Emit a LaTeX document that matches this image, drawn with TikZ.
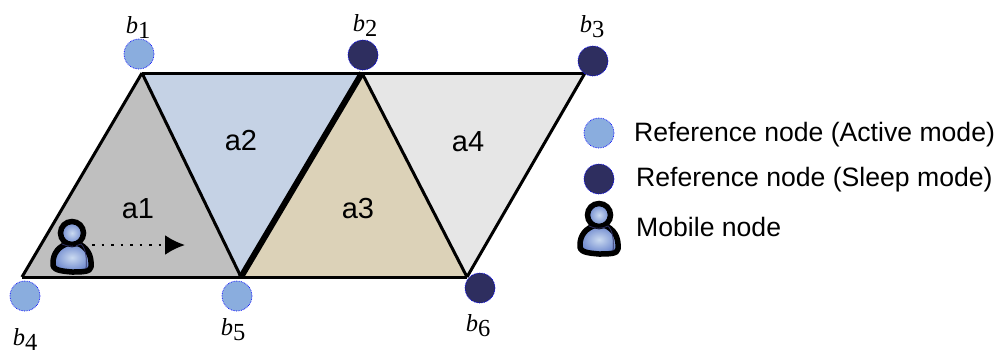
\documentclass[tikz,border=0pt]{standalone}
\usepackage{fontspec}
\setmainfont{Liberation Sans}
\newfontfamily\serifb{Liberation Serif}
\usetikzlibrary{arrows.meta, positioning, shapes.geometric}
\definecolor{cellone}{HTML}{BFBFBF}
\definecolor{celltwo}{HTML}{C5D2E5}
\definecolor{cellthree}{HTML}{DCD2B8}
\definecolor{cellfour}{HTML}{E6E6E6}
\definecolor{activeblue}{HTML}{8AADDE}
\definecolor{sleepblue}{HTML}{2E2E5F}
\newcommand{\bsub}[1]{{\serifb\itshape b}{\serifb\raisebox{-5pt}{#1}}}

\begin{document}
\begin{tikzpicture}[
        x=1pt, y=-1pt,
        active/.style={circle, draw=blue, densely dotted, line width=0.7pt, fill=activeblue, minimum size=30pt, inner sep=0pt},
        sleep/.style={active, fill=sleepblue},
        edge/.style={line width=3pt, line join=round},
        cell/.style={font=\fontsize{29}{30}\selectfont},
        bname/.style={font=\fontsize{24.5}{25}\selectfont, inner sep=0pt},
        legend/.style={anchor=west, inner sep=0pt, font=\fontsize{26.6}{28}\selectfont},
        mobile/.pic={
            \path[draw=black, line width=5.5pt, line join=round, inner color=activeblue!45, outer color=activeblue!85!blue!90!black]
                (-3,10) .. controls (-13,13) and (-19,20) .. (-19,30) .. controls (-20,37) and (-12,38) .. (0,39)
                .. controls (9,39) and (19,39) .. (19,34) .. controls (20,22) and (15,14) .. (5,10) -- cycle;
            \path[draw=black, line width=5.5pt, inner color=activeblue!45, outer color=activeblue!85!blue!90!black]
                (0,0) circle (11.5);
            \draw[sleepblue, line width=0.8pt] (-10,11) .. controls (-4,14) and (3,14) .. (9,11)
                .. controls (14,16) and (15,25) .. (14,36);
        }
    ]
        \useasboundingbox (0,0) rectangle (999,354);

        % Corners
        \coordinate (t1) at (142,73);
        \coordinate (t2) at (362,73);
        \coordinate (t3) at (585,73);
        \coordinate (p4) at (22,277);
        \coordinate (p5) at (241,277);
        \coordinate (p6) at (467,277);

        % Cells
        \fill[cellone] (t1) -- (p5) -- (p4) -- cycle;
        \fill[celltwo] (t1) -- (t2) -- (p5) -- cycle;
        \fill[cellthree] (t2) -- (p6) -- (p5) -- cycle;
        \fill[cellfour] (t2) -- (t3) -- (p6) -- cycle;

        % Edges
        \draw[edge] (t1) -- (t2);
        \draw[edge] (t2) -- (t3);
        \draw[edge] (p4) -- (p5);
        \draw[edge] (p5) -- (p6);
        \draw[edge] (p4) -- (t1);
        \draw[edge] (t1) -- (p5);
        \draw[edge, line width=6pt] (p5) -- (t2);
        \draw[edge] (t2) -- (p6);
        \draw[edge] (p6) -- (t3);

        \node[cell] (a1) at (138,209) {a1};
        \node[cell] (a2) at (241,141) {a2};
        \node[cell] (a3) at (358,209) {a3};
        \node[cell] (a4) at (468,142) {a4};

        % Reference nodes
        \node[active] (n1) at (139,54) {};
        \node[sleep] (n2) at (363,55) {};
        \node[sleep] (n3) at (593,61) {};
        \node[active] (n4) at (25,296) {};
        \node[active] (n5) at (237,296) {};
        \node[sleep] (n6) at (480,288) {};

        \node[bname] (b1) at (138,27) {\bsub{1}};
        \node[bname] (b2) at (365,25) {\bsub{2}};
        \node[bname] (b3) at (592,27) {\bsub{3}};
        \node[bname] (b4) at (25,339) {\bsub{4}};
        \node[bname] (b5) at (233,330) {\bsub{5}};
        \node[bname] (b6) at (478,326) {\bsub{6}};

        % Mobile node and its move
        \pic at (72,233) {mobile};
        \coordinate (from) at (73,245);
        \coordinate (to) at (185,245);
        \draw[line width=2.5pt, dash pattern=on 2.5pt off 7pt, -{Latex[length=20pt, width=20pt]}] (from) -- (to);

        % Legend
        \node[active] (l1) at (599,133) {};
        \node[sleep] (l2) at (599,179) {};
        \pic at (599,215) {mobile};
        \node[legend] (t1l) at (634,134.5) {Reference node (Active mode)};
        \node[legend] (t2l) at (636,179.5) {Reference node (Sleep mode)};
        \node[legend] (t3l) at (636,227) {Mobile node};
    \end{tikzpicture}
\end{document}
